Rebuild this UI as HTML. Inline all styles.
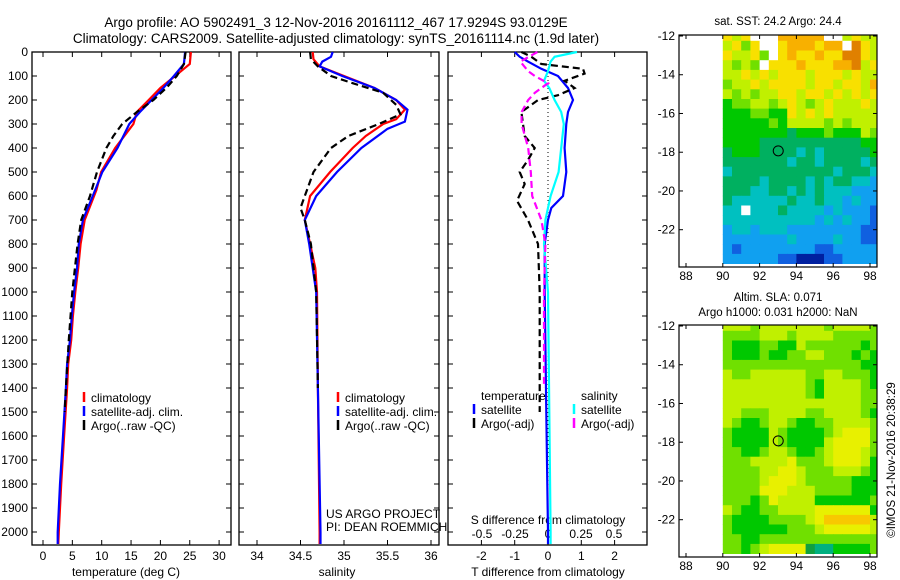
<!DOCTYPE html>
<html><head><meta charset="utf-8"><style>
html,body{margin:0;padding:0;background:#fff;}
svg{display:block;font-family:"Liberation Sans",sans-serif;}
</style></head><body>
<svg id="fig" width="900" height="580" viewBox="0 0 900 580" xmlns="http://www.w3.org/2000/svg">
<text x="336" y="27" font-size="13.5" text-anchor="middle">Argo profile: AO 5902491_3 12-Nov-2016 20161112_467 17.9294S 93.0129E</text>
<text x="336" y="43" font-size="13.5" text-anchor="middle">Climatology: CARS2009. Satellite-adjusted climatology: synTS_20161114.nc (1.9d later)</text>
<g id="plots"></g>
<text x="778" y="25" font-size="11.5" text-anchor="middle">sat. SST: 24.2 Argo: 24.4</text>
<text x="778" y="301" font-size="11.5" text-anchor="middle">Altim. SLA: 0.071</text>
<text x="778" y="316" font-size="11.5" text-anchor="middle">Argo h1000: 0.031 h2000: NaN</text>
<text transform="translate(895,460) rotate(-90)" font-size="11.5" text-anchor="middle">©IMOS 21-Nov-2016 20:38:29</text>
</svg>
<script>
// ---------- data ----------
const depthTick = [0,100,200,300,400,500,600,700,800,900,1000,1100,1200,1300,1400,1500,1600,1700,1800,1900,2000];
const tTicks = [0,5,10,15,20,25,30];
const sTicks = [34,34.5,35,35.5,36];
const dTTicks = [-2,-1,0,1,2];
const dSTicks = [-0.5,-0.25,0,0.25,0.5];
const dSTickLabels = ["-0.5","-0.25","0","0.25","0.5"];

const tClimDepth = [0,50,70,100,150,200,250,300,400,500,575,700,800,900,1000,1100,1200,1300,1400,1600,1800,2000,2050];
const tClim      = [25.2,25.0,24.0,22.5,20,18,16,15.4,12.3,9.9,9.1,7.1,6.4,6.0,5.5,5.1,4.8,4.3,4.1,3.6,3.1,2.7,2.6];
const tSatDepth  = [0,50,100,150,200,250,300,400,500,575,700,800,900,1000,1100,1200,1300,1400,1600,1800,2000,2050];
const tSat       = [24.2,24.0,22.3,20.5,18.5,16.5,14.7,12.7,10.1,8.9,6.8,6.1,5.8,5.3,4.9,4.6,4.1,3.9,3.4,2.9,2.5,2.5];
const tArgoDepth = [0,50,100,150,200,250,300,350,400,500,600,700,800,1000,1200,1400,1500];
const tArgo      = [24.3,24.0,22.8,21,18.8,16,13.5,12,10.8,9.2,8.0,6.5,5.9,5.0,4.4,3.9,3.7];

const sClimDepth = [0,30,60,100,150,200,240,280,300,350,400,500,600,700,800,900,1000,1400,2000,2050];
const sClim      = [34.64,34.65,34.72,35.0,35.35,35.6,35.7,35.6,35.45,35.25,35.1,34.84,34.61,34.55,34.61,34.67,34.69,34.7,34.72,34.72];
const sSatDepth  = [0,20,40,60,100,150,200,240,290,320,400,500,600,700,800,1000,1400,2000,2050];
const sSat       = [34.87,34.85,34.75,34.72,34.98,35.35,35.6,35.73,35.7,35.5,35.2,34.92,34.68,34.55,34.6,34.68,34.7,34.73,34.73];
const sArgoDepth = [0,30,60,100,130,170,220,260,300,350,400,500,600,650,700,800,1000,1400];
const sArgo      = [34.61,34.62,34.7,34.85,35.1,35.45,35.6,35.65,35.4,35.05,34.85,34.65,34.55,34.5,34.55,34.62,34.68,34.7];

const dTSatDepth = [0,20,40,70,100,150,200,250,300,400,500,600,650,700,800,1000,1500,2000,2050];
const dTSat      = [-1.0,-0.85,-0.6,-0.2,0.3,0.6,0.75,0.6,0.55,0.5,0.55,0.45,0.1,0,-0.1,-0.1,-0.05,0,0];
const dTArgoDepth= [0,20,50,70,90,120,150,180,200,250,300,350,400,450,500,550,620,700,800,1000,1400,1500];
const dTArgo     = [-0.8,-0.5,-0.2,1.05,1.1,0.5,0.8,0.3,-0.3,-0.8,-0.75,-0.7,-0.4,-0.6,-0.85,-0.7,-0.93,-0.6,-0.3,-0.25,-0.25,-0.25];
const dSSatDepth = [0,20,40,80,120,150,200,250,300,400,500,600,700,800,1000,2000,2050];
const dSSat      = [0.22,0.05,0.02,0,-0.03,0.01,0.05,0.1,0.12,0.1,0.08,0.02,-0.02,-0.03,0,0.02,0.02];
const dSArgoDepth= [0,40,80,100,130,170,200,250,300,400,500,600,700,800,1000,1400];
const dSArgo     = [-0.08,-0.21,-0.15,-0.1,0,-0.1,-0.15,-0.2,-0.2,-0.15,-0.13,-0.12,-0.05,-0.02,-0.03,-0.03];

// maps: rows from lat -12 southward in 0.5 deg steps, cols from lon 90 eastward in 0.5 deg
const sstRows = [
"878www99999ww7877","7868ww8999899wo87","87786w8988988oo87","7676w888988899o78",
"77878788878887877","67787888878878879","76767788788787878","56677678767877787",
"55566558787877777","55555657777676777","55555554555655576","55554444444444455",
"45554444343444445","44444443443444434","34444444444434443","44443444434344332",
"44433443434333222","43333334334332322","33w33343333232221","33333333332323221",
"23323332222222211","22222223222232211","21222222221122222","22222211000112222"];
const slaRows = [
"77767777777677776","66667776777766666","65556655766666656","65556556677666565",
"66666666666666655","76677777766776665","77777777765777765","77777777765777766",
"77777777777777766","77666777766777765","76556776556677776","65555765555678886",
"65555765555788886","66556776556788876","66677778666788875","66667788766677765",
"66667888766666555","66668887776666555","66656877775555556","76556677778888885",
"65555666678999997","65555556667888887","66556666666666666","665678888dtt55556"];
const mapLonTicks = [88,90,92,94,96,98];
const mapLatTicks = [-12,-14,-16,-18,-20,-22];
const argoLon = 93.0129, argoLat = -17.9294;

const sstPal = {"0":"#0020a0","1":"#1060e0","2":"#10a0f0","3":"#00c0c0","4":"#00b060","5":"#00c800","6":"#70e000","7":"#c0f000","8":"#f8e000","9":"#f8b000","o":"#e08000","w":"#ffffff"};
const slaPal = {"5":"#00c800","6":"#70e000","7":"#c0f000","8":"#e8f000","9":"#f8c800","d":"#10a040","t":"#00b080"};

// ---------- drawing ----------
const NS="http://www.w3.org/2000/svg";
const root=document.getElementById('plots');
function el(tag,attrs,parent){const e=document.createElementNS(NS,tag);for(const k in attrs)e.setAttribute(k,attrs[k]);(parent||root).appendChild(e);return e;}
const y0=52, ky=0.24;
const yD = d => y0 + d*ky;
const panelBottom=545;

function frame(x1,x2,name){
  const r=el('rect',{x:x1,y:y0,width:x2-x1,height:panelBottom-y0,fill:'none',stroke:'#000','stroke-width':1.3});
  
  
  depthTick.forEach(d=>{
    el('line',{x1:x1,x2:x1+5,y1:yD(d),y2:yD(d),stroke:'#000'});
    el('line',{x1:x2,x2:x2-5,y1:yD(d),y2:yD(d),stroke:'#000'});
  });
}
function line(xs,ds,xf,color,dash,name,w){
  const pts=xs.map((v,i)=>xf(v).toFixed(1)+','+yD(ds[i]).toFixed(1)).join(' ');
  const p=el('polyline',{points:pts,fill:'none',stroke:color,'stroke-width':w||2.2,'stroke-dasharray':dash||'none'});
  
  
}
function text(x,y,s,opts,name){
  const t=el('text',Object.assign({x:x,y:y,'font-size':12},opts||{}));t.textContent=s;
  
  
  return t;
}

// panel 1 temperature
const xT = v => 43 + v*5.87;
frame(32,231,'temperature-panel-frame');
depthTick.forEach(d=>text(28,yD(d)+4,String(d),{'text-anchor':'end'},'depth-tick-label'));
tTicks.forEach(v=>{el('line',{x1:xT(v),x2:xT(v),y1:panelBottom,y2:panelBottom-5,stroke:'#000'});el('line',{x1:xT(v),x2:xT(v),y1:y0,y2:y0+5,stroke:'#000'});text(xT(v),560,String(v),{'text-anchor':'middle'},'temperature-tick-label');});
text(126,576,'temperature (deg C)',{'text-anchor':'middle'},'temperature-axis-title');
line(tClim,tClimDepth,xT,'#ff0000',null,'temp-climatology-line');
line(tSat,tSatDepth,xT,'#0000ff',null,'temp-satellite-line');
line(tArgo,tArgoDepth,xT,'#000000','7,4','temp-argo-line');
function legend(x,y,items,prefix){
  items.forEach((it,i)=>{
    el('line',{x1:x,x2:x,y1:y+i*14-10,y2:y+i*14,stroke:it[1],'stroke-width':2.5});
    text(x+7,y+i*14,it[0],{},prefix+'-legend-entry');
  });
}
legend(84,402,[['climatology','#ff0000'],['satellite-adj. clim.','#0000ff'],['Argo(..raw -QC)','#000']],'temp');

// panel 2 salinity
const xS = v => 257 + (v-34)*87;
frame(239,439,'salinity-panel-frame');
sTicks.forEach(v=>{el('line',{x1:xS(v),x2:xS(v),y1:panelBottom,y2:panelBottom-5,stroke:'#000'});el('line',{x1:xS(v),x2:xS(v),y1:y0,y2:y0+5,stroke:'#000'});text(xS(v),560,String(v),{'text-anchor':'middle'},'salinity-tick-label');});
text(337,576,'salinity',{'text-anchor':'middle'},'salinity-axis-title');
line(sClim,sClimDepth,xS,'#ff0000',null,'sal-climatology-line');
line(sSat,sSatDepth,xS,'#0000ff',null,'sal-satellite-line');
line(sArgo,sArgoDepth,xS,'#000000','7,4','sal-argo-line');
legend(338,402,[['climatology','#ff0000'],['satellite-adj. clim.','#0000ff'],['Argo(..raw -QC)','#000']],'sal');
text(326,518,'US ARGO PROJECT',{},'project-label');
text(326,531,'PI: DEAN ROEMMICH',{},'pi-label');

// panel 3 differences
const xDT = v => 548 + v*33.3;
const xDS = v => 548 + v*132;
frame(448,647,'difference-panel-frame');
el('line',{x1:548,x2:548,y1:y0,y2:panelBottom,stroke:'#000','stroke-dasharray':'1,3'});
dTTicks.forEach(v=>{el('line',{x1:xDT(v),x2:xDT(v),y1:panelBottom,y2:panelBottom-5,stroke:'#000'});el('line',{x1:xDT(v),x2:xDT(v),y1:y0,y2:y0+5,stroke:'#000'});text(xDT(v),560,String(v),{'text-anchor':'middle'},'t-diff-tick-label');});
dSTicks.forEach((v,i)=>{text(xDS(v),538,dSTickLabels[i],{'text-anchor':'middle'},'s-diff-tick-label');});
text(548,576,'T difference from climatology',{'text-anchor':'middle'},'t-diff-axis-title');
text(548,524,'S difference from climatology',{'text-anchor':'middle'},'s-diff-axis-title');
line(dTSat,dTSatDepth,xDT,'#0000ff',null,'t-diff-satellite-line');
line(dTArgo,dTArgoDepth,xDT,'#000000','7,4','t-diff-argo-line');
line(dSSat,dSSatDepth,xDS,'#00ffff',null,'s-diff-satellite-line');
line(dSArgo,dSArgoDepth,xDS,'#ff00ff','7,4','s-diff-argo-line');
text(481,400,'temperature',{},'temp-legend-header');
text(581,400,'salinity',{},'sal-legend-header');
legend(474,414,[['satellite','#0000ff'],['Argo(-adj)','#000']],'tdiff');
legend(574,414,[['satellite','#00ffff'],['Argo(-adj)','#ff00ff']],'sdiff');

// maps
function map(top,rows,pal,name){
  const left=679,right=877,bottom=top+232;
  const lx = lon => 686 + (lon-88)*18.4;
  const ly = lat => top+1 + (-12-lat)*19.37;
  const g=el('g',{});
  
  
  const cp=el('clipPath',{id:'c'+top},g);el('rect',{x:left,y:top,width:right-left,height:bottom-top},cp);
  const cells=el('g',{'clip-path':'url(#c'+top+')'},g);
  rows.forEach((row,r)=>{
    for(let c=0;c<row.length;c++){
      const lon=90+c*0.5, lat=-12+0.25-r*0.5;
      el('rect',{x:lx(lon).toFixed(1),y:ly(lat).toFixed(1),width:9.6,height:10.1,fill:pal[row[c]]||'#fff'},cells);
    }
  });
  el('rect',{x:left,y:top,width:right-left,height:bottom-top,fill:'none',stroke:'#000','stroke-width':1.2},g);
  mapLonTicks.forEach(v=>{el('line',{x1:lx(v),x2:lx(v),y1:bottom,y2:bottom-4,stroke:'#000'},g);el('line',{x1:lx(v),x2:lx(v),y1:top,y2:top+4,stroke:'#000'},g);
    text(lx(v),bottom+13,String(v),{'text-anchor':'middle'},'map-lon-tick-label');});
  mapLatTicks.forEach(v=>{el('line',{x1:left,x2:left+4,y1:ly(v),y2:ly(v),stroke:'#000'},g);el('line',{x1:right,x2:right-4,y1:ly(v),y2:ly(v),stroke:'#000'},g);
    text(675,ly(v)+4,String(v),{'text-anchor':'end'},'map-lat-tick-label');});
  const c=el('circle',{cx:lx(argoLon),cy:ly(argoLat),r:5,fill:'none',stroke:'#000','stroke-width':1},g);
  
  
}
map(35,sstRows,sstPal,'sst-map');
map(325,slaRows,slaPal,'sla-map');
</script>
</body></html>
